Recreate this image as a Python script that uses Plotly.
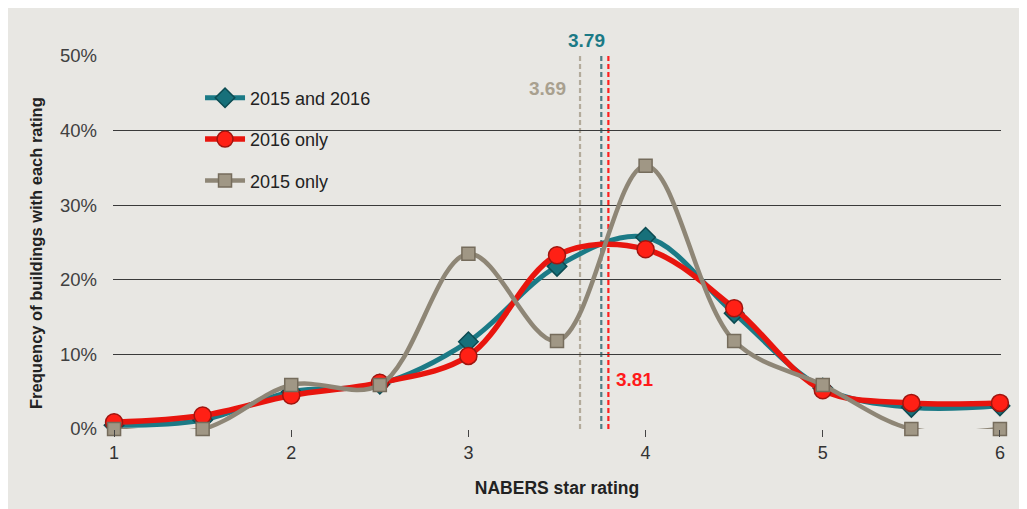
import plotly.graph_objects as go

ratings = [1, 1.5, 2, 2.5, 3, 3.5, 4, 4.5, 5, 5.5, 6]
both_years = [0.5, 1.2, 5.0, 6.0, 11.7, 21.8, 25.7, 15.5, 5.5, 2.9, 3.1]
only_2016 = [0.9, 1.8, 4.5, 6.2, 9.8, 23.3, 24.1, 16.2, 5.2, 3.5, 3.5]
only_2015 = [0.0, 0.0, 5.9, 5.9, 23.5, 11.8, 35.3, 11.8, 5.9, 0.0, 0.0]

series_names = ["2015 and 2016", "2016 only", "2015 only"]

mean_labels = ["3.79", "3.81", "3.69"]
mean_line_x = [3.75, 3.79, 3.63]
mean_label_pos = [(3.667, 52.1), (3.94, 6.7), (3.447, 45.7)]

y_ticks = [0, 10, 20, 30, 40, 50]
y_tick_text = ["0%", "10%", "20%", "30%", "40%", "50%"]
x_ticks = [1, 2, 3, 4, 5, 6]

TEAL = "#1B7A86"
RED = "#E8150E"
GRAY = "#8E8676"
FONT = "Liberation Sans, Arial, sans-serif"

fig = go.Figure()

styles = [
    dict(line=dict(color=TEAL, width=5, shape="spline", smoothing=1.0),
         marker=dict(symbol="diamond", size=15, color="#17707A",
                     line=dict(color="#0C4B52", width=1.5))),
    dict(line=dict(color=RED, width=5.5, shape="spline", smoothing=1.0),
         marker=dict(symbol="circle", size=17, color="#FF2015",
                     line=dict(color="#A0150F", width=1.5))),
    dict(line=dict(color=GRAY, width=4.5, shape="spline", smoothing=1.0),
         marker=dict(symbol="square", size=13, color="#A09785",
                     line=dict(color="#756C5C", width=1.5))),
]

for name, vals, st in zip(series_names, [both_years, only_2016, only_2015], styles):
    fig.add_trace(go.Scatter(
        x=ratings, y=vals, name=name, mode="lines+markers",
        line=st["line"], marker=st["marker"], cliponaxis=False,
        legendgroup=name,
    ))

shapes = []
dash_colors = ["#4E7D84", "#FF2020", "#B3AB9B"]
for xv, c in zip(mean_line_x, dash_colors):
    shapes.append(dict(type="line", xref="x", yref="y", x0=xv, x1=xv, y0=0, y1=50,
                       line=dict(color=c, width=2.2, dash="5px,3px"), layer="below"))
fig.update_layout(shapes=shapes)

label_colors = ["#1B7A86", "#FF1A1A", "#A8A08F"]
for txt, (lx, ly), c in zip(mean_labels, mean_label_pos, label_colors):
    fig.add_annotation(x=lx, y=ly / 50, xref="x", yref="paper", text=f"<b>{txt}</b>",
                       xanchor="center", yanchor="middle",
                       showarrow=False, font=dict(size=19, color=c, family=FONT))

fig.add_annotation(x=-0.0867, y=0.472, xref="paper", yref="paper",
                   text="<b>Frequency of buildings with each rating</b>",
                   textangle=-90, xanchor="center", yanchor="middle", showarrow=False,
                   font=dict(size=16.5, color="#222222", family=FONT))

fig.update_layout(
    width=1027, height=509,
    margin=dict(l=105, r=34, t=48, b=88),
    paper_bgcolor="#E8E7E3",
    plot_bgcolor="rgba(0,0,0,0)",
    font=dict(family=FONT, color="#333333"),
    showlegend=True,
    legend=dict(x=0.098, y=0.937, xanchor="left", yanchor="top",
                bgcolor="rgba(0,0,0,0)", tracegroupgap=15,
                font=dict(size=18, color="#222222"), itemwidth=40),
    xaxis=dict(range=[0.994, 6.006], tickmode="array", tickvals=x_ticks,
               showgrid=False, zeroline=False, showline=False,
               ticks="outside", ticklen=7, tickcolor="#444444", tickwidth=1,
               tickfont=dict(size=18, color="#333333"),
               title=dict(text="<b>NABERS star rating</b>", font=dict(size=17.5, color="#222222"),
                          standoff=20)),
    yaxis=dict(range=[0, 50], tickmode="array", tickvals=y_ticks, ticktext=y_tick_text,
               showgrid=True, gridcolor="#3A3A3A", gridwidth=1.3,
               zeroline=False, showline=False, ticks="", ticklabelstandoff=15,
               tickfont=dict(size=18.5, color="#404040")),
)

fig.write_html("out.html")
